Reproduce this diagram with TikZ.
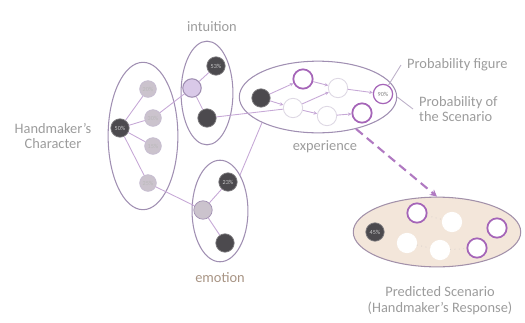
\documentclass[tikz,border=0pt]{standalone}
\usepackage{fontspec}
\setmainfont{Carlito}
\usetikzlibrary{arrows.meta,shapes.geometric}
\definecolor{elln}{HTML}{A08FB2}
\definecolor{txt}{HTML}{9C9C9C}
\definecolor{darkn}{HTML}{4C4A4E}
\definecolor{grayn}{HTML}{CBC3CD}
\definecolor{purp}{HTML}{8E3FA6}
\definecolor{lpurp}{HTML}{D9C9E8}
\definecolor{link}{HTML}{C6A8D6}
\definecolor{beige}{HTML}{F3E6DA}
\definecolor{tan}{HTML}{A89484}
\begin{document}
\begin{tikzpicture}[x=0.02cm,y=-0.02cm,
  grp/.style={draw=elln,line width=0.6pt,ellipse,inner sep=0pt},
  dk/.style={circle,fill=darkn,draw=darkn!70,minimum size=10.5pt,inner sep=0pt,font=\fontsize{3.5}{4}\selectfont,text=white!70!darkn},
  gy/.style={circle,fill=grayn,draw=elln!60,minimum size=9.5pt,inner sep=0pt,font=\fontsize{3.5}{4}\selectfont,text=white!45!gray},
  lp/.style={circle,fill=lpurp,draw=elln,line width=0.6pt,minimum size=10.5pt,inner sep=0pt},
  wt/.style={circle,fill=white,draw=elln!35,line width=0.5pt,minimum size=11pt,inner sep=0pt},
  pr/.style={circle,fill=white,draw=purp!80,line width=1pt,minimum size=11pt,inner sep=0pt,font=\fontsize{3.5}{4}\selectfont,text=gray},
  lbl/.style={text=txt,font=\fontsize{8.2}{10}\selectfont,align=center},
  ln/.style={draw=link,line width=0.5pt},
  ar/.style={draw=link,line width=0.5pt,-{Stealth[length=2pt,width=2pt]}}
]
\useasboundingbox (0,0) rectangle (525,322);
% group ellipses
\node[grp,minimum width=39.7pt,minimum height=83.9pt] (char) at (143,136) {};
\node[grp,minimum width=29.5pt,minimum height=59pt] (intu) at (207,93) {};
\node[grp,minimum width=31.8pt,minimum height=57.8pt] (emo) at (220,211) {};
\node[grp,minimum width=89.6pt,minimum height=40.8pt] (exp) at (318,97) {};
\node[grp,fill=beige,draw=elln!80!tan,minimum width=95.3pt,minimum height=39.7pt] (pred) at (437,232) {};
% labels
\node[lbl] (lchar) at (53,136) {Handmaker's\\[-1pt]Character};
\node[lbl] (lintu) at (212,27) {intuition};
\node[lbl,text=tan] (lemo) at (220,278) {emotion};
\node[lbl] (lexp) at (325,147) {experience};
\node[lbl,anchor=west] (lpf) at (401,65) {Probability figure};
\node[lbl,anchor=west,align=left] (lps) at (413,109) {Probability of\\[-1pt]the Scenario};
\node[lbl] (lpred) at (440,301) {Predicted Scenario\\[-1pt](Handmaker's Response)};
% character nodes
\node[dk] (c0) at (120,128) {50\%};
\node[gy] (c1) at (148,89) {20\%};
\node[gy] (c2) at (153,118) {30\%};
\node[gy] (c3) at (153,146) {15\%};
\node[gy] (c4) at (148,183) {25\%};
\foreach \i in {1,2,3,4} \draw[ln] (c0) -- (c\i);
% intuition nodes
\node[lp] (i0) at (192,88) {};
\node[dk] (i1) at (216,66) {53\%};
\node[dk] (i2) at (207,118) {};
\draw[ln] (i0) -- (i1);
\draw[ln] (i0) -- (i2);
% emotion nodes
\node[gy,minimum size=10.5pt,draw=elln] (e0) at (203,210) {};
\node[dk] (e1) at (228,182) {23\%};
\node[dk] (e2) at (225,243) {};
\draw[ln] (e0) -- (e1);
\draw[ln] (e0) -- (e2);
% links between groups
\draw[ln] (c2) -- (i0);
\draw[ln] (c4) -- (e0);
% experience nodes
\node[dk] (x0) at (261,98) {};
\node[pr] (x1) at (303,79) {};
\node[wt] (x2) at (338,88) {};
\node[wt] (x3) at (293,108) {};
\node[wt] (x4) at (327,116) {};
\node[pr] (x5) at (362,113) {};
\node[pr,line width=0.7pt] (x6) at (383,94) {90\%};
\draw[ln] (i2) -- (x3);
\draw[ln] (emo.north east) -- (exp.south west);
\draw[ar] (x0) -- (x1);
\draw[ar] (x0) -- (x3);
\draw[ar] (x1) -- (x2);
\draw[ar] (x3) -- (x2);
\draw[ar] (x3) -- (x4);
\draw[ar] (x4) -- (x5);
\draw[ar] (x2) -- (x6);
\draw[draw=elln!70,line width=0.5pt] (lpf.west) -- (x6);
\draw[draw=elln!70,line width=0.5pt] (lps.west) -- (exp.east);
% dashed arrow
\draw[draw=purp!70,line width=1.2pt,dash pattern=on 5pt off 3pt,-{Stealth[length=4pt,width=4pt]}] (exp.-40) -- (pred.north);
% predicted nodes
\node[dk] (p0) at (375,232) {45\%};
\node[pr] (p1) at (417,213) {};
\node[wt,draw=white] (p2) at (452,222) {};
\node[wt,draw=white] (p3) at (407,243) {};
\node[wt,draw=white] (p4) at (440,250) {};
\node[pr] (p5) at (477,248) {};
\node[pr] (p6) at (497,228) {};
\draw[draw=tan!40,line width=0.5pt,dotted] (p1) -- (p2);
\draw[draw=tan!40,line width=0.5pt,dotted] (p3) -- (p4);
\draw[draw=tan!40,line width=0.5pt,dotted] (p4) -- (p5);
\end{tikzpicture}
\end{document}
